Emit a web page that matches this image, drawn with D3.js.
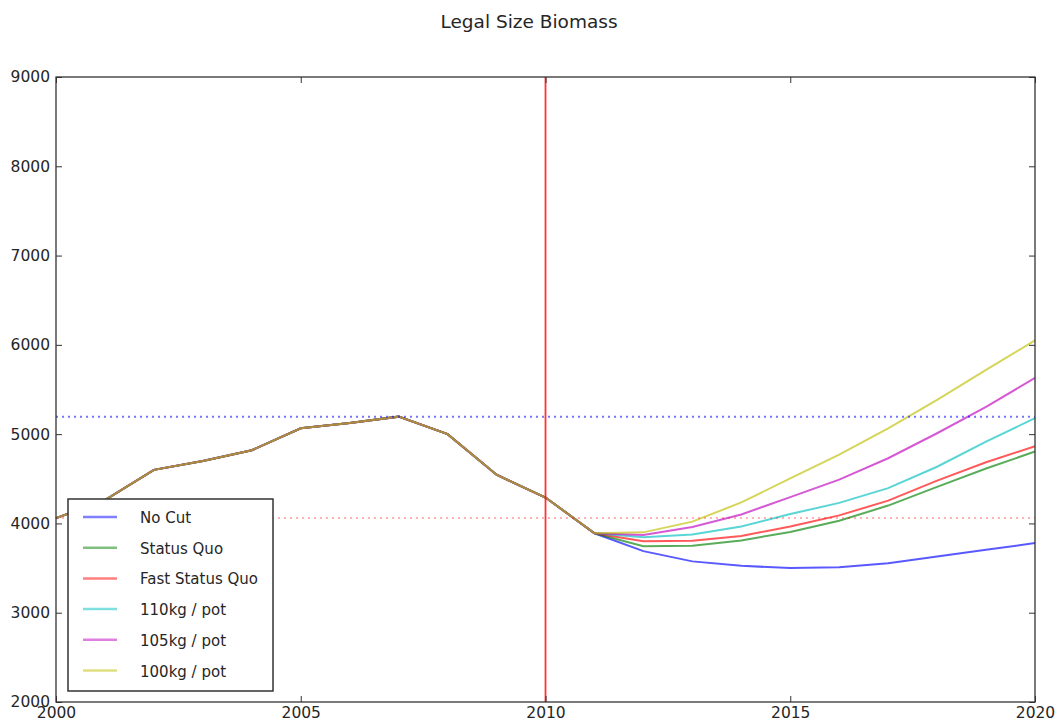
<!DOCTYPE html>
<html>
<head>
<meta charset="utf-8">
<script src="https://cdn.jsdelivr.net/npm/d3@7/dist/d3.min.js"></script>
<style>
  body { margin: 0; background: #fff; }
  text { font-family: "DejaVu Sans", sans-serif; fill: #262626; }
</style>
</head>
<body>
<div id="chart"></div>
<script>
// data
const years = [2000, 2001, 2002, 2003, 2004, 2005, 2006, 2007, 2008, 2009, 2010,
               2011, 2012, 2013, 2014, 2015, 2016, 2017, 2018, 2019, 2020];
const history = [4060, 4260, 4600, 4700, 4820, 5065, 5125, 5196, 5000, 4545, 4290];
// projections 2011 - 2020
const noCut      = [3890, 3690, 3575, 3525, 3500, 3510, 3555, 3630, 3705, 3780];
const statusQuo  = [3890, 3745, 3750, 3810, 3905, 4030, 4200, 4410, 4615, 4805];
const fastStatus = [3890, 3800, 3805, 3860, 3965, 4090, 4255, 4480, 4685, 4865];
const kg110      = [3890, 3845, 3875, 3965, 4105, 4230, 4395, 4635, 4915, 5180];
const kg105      = [3890, 3870, 3960, 4100, 4295, 4490, 4730, 5010, 5305, 5630];
const kg100      = [3890, 3900, 4020, 4235, 4505, 4770, 5065, 5385, 5720, 6050];

const seriesNames = ["No Cut", "Status Quo", "Fast Status Quo", "110kg / pot", "105kg / pot", "100kg / pot"];
const seriesData = [noCut, statusQuo, fastStatus, kg110, kg105, kg100];
const seriesColors = ["#0000ff", "#008000", "#ff0000", "#00bfbf", "#bf00bf", "#bfbf00"];

const xTicks = [2000, 2005, 2010, 2015, 2020];
const yTicks = [2000, 3000, 4000, 5000, 6000, 7000, 8000, 9000];
const upperRef = 5196;   // blue dotted
const lowerRef = 4060;   // red dotted
const splitYear = 2010;  // red vertical

const width = 1058, height = 722;
const margin = {top: 77, right: 23, bottom: 20, left: 56};

const svg = d3.select("#chart").append("svg")
    .attr("width", width)
    .attr("height", height);

const x = d3.scaleLinear().domain([2000, 2020]).range([margin.left, width - margin.right]);
const y = d3.scaleLinear().domain([2000, 9000]).range([height - margin.bottom, margin.top]);

svg.append("text")
    .attr("x", 529).attr("y", 28)
    .attr("text-anchor", "middle")
    .style("font-size", "18.5px")
    .text("Legal Size Biomass");

const line = d3.line()
    .x(d => x(d[0]))
    .y(d => y(d[1]));

// every scenario shares the history, overlapping gives the olive look
seriesData.forEach((proj, i) => {
    const vals = history.concat(proj);
    const pts = years.map((yr, j) => [yr, vals[j]]);
    svg.append("path")
        .datum(pts)
        .attr("fill", "none")
        .attr("stroke", seriesColors[i])
        .attr("stroke-opacity", 0.65)
        .attr("stroke-width", 2)
        .attr("d", line);
});

// reference lines
svg.append("line")
    .attr("x1", x(2000)).attr("x2", x(2020))
    .attr("y1", y(upperRef)).attr("y2", y(upperRef))
    .attr("stroke", "#0000ff").attr("stroke-opacity", 0.55)
    .attr("stroke-width", 2).attr("stroke-dasharray", "2,4");
svg.append("line")
    .attr("x1", x(2000)).attr("x2", x(2020))
    .attr("y1", y(lowerRef)).attr("y2", y(lowerRef))
    .attr("stroke", "#ff0000").attr("stroke-opacity", 0.3)
    .attr("stroke-width", 2).attr("stroke-dasharray", "2,4");
svg.append("line")
    .attr("x1", x(splitYear)).attr("x2", x(splitYear))
    .attr("y1", y(9000)).attr("y2", y(2000))
    .attr("stroke", "#ff0000").attr("stroke-opacity", 0.8)
    .attr("stroke-width", 1.8);

// axes, ticks pointing inward
const fmt = d3.format("d");
const axL = svg.append("g").attr("transform", `translate(${x(2000)},0)`)
    .call(d3.axisLeft(y).tickValues(yTicks).tickSizeInner(-6).tickSizeOuter(0).tickPadding(6).tickFormat(fmt));
const axR = svg.append("g").attr("transform", `translate(${x(2020)},0)`)
    .call(d3.axisRight(y).tickValues(yTicks).tickSizeInner(-6).tickSizeOuter(0).tickFormat(""));
const axB = svg.append("g").attr("transform", `translate(0,${y(2000)})`)
    .call(d3.axisBottom(x).tickValues(xTicks).tickSizeInner(-6).tickSizeOuter(0).tickPadding(5).tickFormat(fmt));
const axT = svg.append("g").attr("transform", `translate(0,${y(9000)})`)
    .call(d3.axisTop(x).tickValues(xTicks).tickSizeInner(-6).tickSizeOuter(0).tickFormat(""));

[axL, axR, axB, axT].forEach(g => {
    g.select(".domain").remove();
    g.selectAll("line").attr("stroke", "#333").attr("stroke-width", 1);
    g.selectAll("text").style("font-size", "15.5px").attr("fill", "#262626")
        .style("font-family", "DejaVu Sans, sans-serif");
});

svg.append("rect")
    .attr("x", x(2000)).attr("y", y(9000))
    .attr("width", x(2020) - x(2000)).attr("height", y(2000) - y(9000))
    .attr("fill", "none").attr("stroke", "#333").attr("stroke-width", 1.3);

// legend
const legend = svg.append("g").attr("transform", "translate(68,499)");
legend.append("rect")
    .attr("width", 205).attr("height", 192)
    .attr("fill", "#fff").attr("stroke", "#333").attr("stroke-width", 1.5);

seriesNames.forEach((name, i) => {
    const ly = 18 + i * 30.7;
    legend.append("line")
        .attr("x1", 15).attr("x2", 49)
        .attr("y1", ly).attr("y2", ly)
        .attr("stroke", seriesColors[i]).attr("stroke-opacity", 0.5)
        .attr("stroke-width", 2.5);
    legend.append("text")
        .attr("x", 72).attr("y", ly + 6)
        .style("font-size", "15px")
        .text(name);
});
</script>
</body>
</html>
